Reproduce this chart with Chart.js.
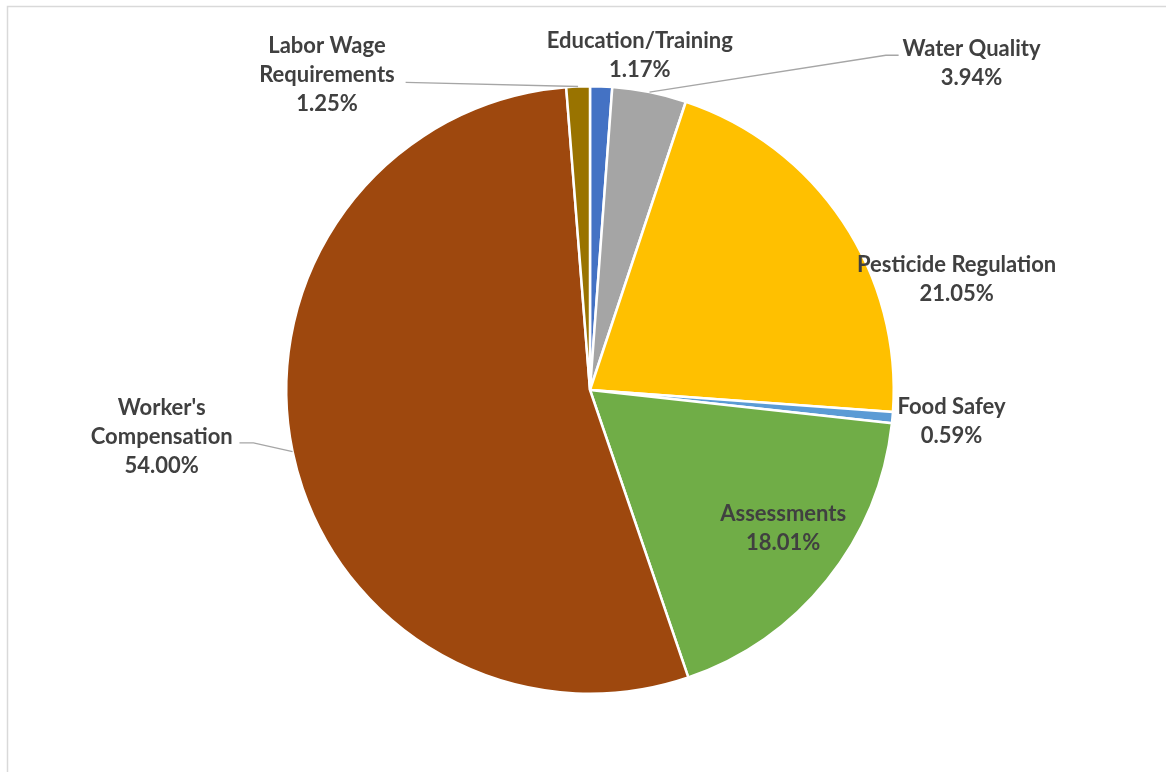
<!DOCTYPE html>
<html>
<head>
<meta charset="utf-8">
<script src="https://cdn.jsdelivr.net/npm/chart.js@4.4.1/dist/chart.umd.min.js"></script>
<style>
  html, body { margin: 0; padding: 0; background: #fff; }
  #wrap { position: relative; width: 1166px; height: 772px; }
</style>
</head>
<body>
<div id="wrap"><canvas id="pie-chart"></canvas></div>
<script>
// chart values, clockwise from 12 o'clock
const categories = ['Education/Training', 'Water Quality', 'Pesticide Regulation', 'Food Safey',
  'Assessments', "Worker's Compensation", 'Labor Wage Requirements'];
const shares = [1.17, 3.94, 21.05, 0.59, 18.01, 54.00, 1.25];
const sliceColors = ['#4472C4', '#A5A5A5', '#FFC000', '#5B9BD5', '#70AD47', '#9E480E', '#997300'];

// label text lines per slice
const labelLines = [
  ['Education/Training'],
  ['Water Quality'],
  ['Pesticide Regulation'],
  ['Food Safey'],
  ['Assessments'],
  ["Worker's", 'Compensation'],
  ['Labor Wage', 'Requirements']
];

// label centres, in units of the radius from the pie centre
const labelPos = [
  [0.164, -1.102], [1.256, -1.075], [1.207, -0.364], [1.190, 0.102],
  [0.636, 0.456], [-1.410, 0.154], [-0.866, -1.036]
];
// leader line: elbow and tail end (radius units), null = no leader
const leaders = [
  null,
  [[0.974, -1.102], [1.016, -1.102]],
  null, null, null,
  [[-1.108, 0.174], [-1.154, 0.174]],
  [[-0.607, -1.013], [-0.607, -1.013]]
];

const lineHeight = 29;
const fontSpec = 'bold 22px Lato, "Open Sans", sans-serif';

const framePlugin = {
  id: 'frame',
  beforeDraw(chart) {
    const ctx = chart.ctx;
    ctx.save();
    ctx.strokeStyle = '#D9D9D9';
    ctx.lineWidth = 1.5;
    ctx.strokeRect(7.5, 6.5, 1300, 900);
    ctx.restore();
  }
};

const labelPlugin = {
  id: 'sliceLabels',
  afterDatasetsDraw(chart) {
    const ctx = chart.ctx;
    const arcs = chart.getDatasetMeta(0).data;
    const cx = arcs[0].x, cy = arcs[0].y, r = arcs[0].outerRadius;
    ctx.save();
    // leaders first
    ctx.strokeStyle = '#A6A6A6';
    ctx.lineWidth = 1.3;
    arcs.forEach(function (arc, i) {
      if (!leaders[i]) return;
      const mid = (arc.startAngle + arc.endAngle) / 2;
      ctx.beginPath();
      ctx.moveTo(cx + Math.cos(mid) * r, cy + Math.sin(mid) * r);
      leaders[i].forEach(function (p) {
        ctx.lineTo(cx + p[0] * r, cy + p[1] * r);
      });
      ctx.stroke();
    });
    // texts
    ctx.fillStyle = '#404040';
    ctx.font = fontSpec;
    ctx.textAlign = 'center';
    ctx.textBaseline = 'middle';
    arcs.forEach(function (arc, i) {
      const lines = labelLines[i].concat([shares[i].toFixed(2) + '%']);
      const x = cx + labelPos[i][0] * r;
      const yMid = cy + labelPos[i][1] * r;
      const y0 = yMid - (lines.length - 1) * lineHeight / 2;
      lines.forEach(function (t, k) {
        ctx.fillText(t, x, y0 + k * lineHeight);
      });
    });
    ctx.restore();
  }
};

const ctx = document.getElementById('pie-chart').getContext('2d');
const pieChart = new Chart(ctx, {
  type: 'pie',
  data: {
    labels: categories,
    datasets: [{
      data: shares,
      backgroundColor: sliceColors,
      borderColor: '#FFFFFF',
      borderWidth: 2.5
    }]
  },
  options: {
    responsive: true,
    maintainAspectRatio: false,
    animation: false,
    layout: {
      padding: { top: 84, bottom: 76, left: 285, right: 271 }
    },
    plugins: {
      legend: { display: false },
      tooltip: { enabled: false },
      title: { display: false }
    }
  },
  plugins: [framePlugin, labelPlugin]
});
</script>
</body>
</html>
